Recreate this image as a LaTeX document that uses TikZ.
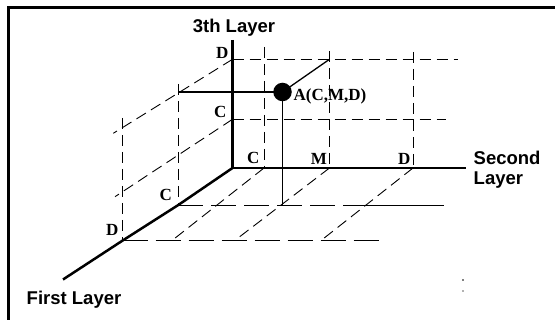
\documentclass[tikz,border=0pt]{standalone}
\usepackage{fontspec}
\setmainfont{Liberation Serif}
\newfontfamily\sansfont{Liberation Sans}
\begin{document}
\begin{tikzpicture}[x=1pt,y=-1pt,
  axisline/.style={line width=2.5pt},
  thinline/.style={line width=1.3pt},
  dsh/.style={line width=0.9pt, dash pattern=on 11pt off 6pt},
  dshlong/.style={line width=0.9pt, dash pattern=on 25pt off 8pt},
  lbl/.style={font=\fontsize{17}{20}\selectfont\bfseries, inner sep=0pt},
  ttl/.style={font=\sansfont\fontsize{18.5}{20}\selectfont\bfseries, inner sep=0pt}]
\useasboundingbox (0,0) rectangle (555,320);
% frame
\draw[line width=2.6pt] (8.5,320) -- (8.5,7.3) -- (555,7.3);
% coordinates
\coordinate (O) at (232.5,168);
\coordinate (Vtop) at (232.5,40);
\coordinate (Hend) at (466,168);
\coordinate (Fend) at (63,279.5);
\coordinate (VC) at (232.5,119.3);
\coordinate (VD) at (232.5,59.3);
\coordinate (HC) at (264,168);
\coordinate (HM) at (329.5,168);
\coordinate (HD) at (413,168);
\coordinate (FC) at (178.3,205);
\coordinate (FD) at (122.7,240.5);
% back plane
\coordinate (bt) at (458,59.3);
\coordinate (bm) at (446,119.3);
\coordinate (hct) at (264,47);
\coordinate (hmt) at (329.5,51);
\coordinate (hdt) at (413,52);
\draw[dsh] (VD) -- (bt);
\draw[dsh] (VC) -- (bm);
\draw[dsh] (hct) -- (HC);
\draw[dsh] (hmt) -- (HM);
\draw[dsh] (hdt) -- (HD);
% side plane
\coordinate (s1) at (113.3,133.3);
\coordinate (s2) at (115,196.7);
\coordinate (fct) at (178.3,84);
\coordinate (fdt) at (122.7,118);
\draw[dsh] (VD) -- (s1);
\draw[dsh] (VC) -- (s2);
\draw[dsh] (fct) -- (FC);
\draw[dsh] (fdt) -- (FD);
% floor
\coordinate (f1m) at (350,205);
\coordinate (f1e) at (444,205);
\coordinate (f2e) at (386,240.5);
\draw[dshlong] (FC) -- (f1m);
\draw[line width=0.9pt] (f1m) -- (f1e);
\draw[dshlong] (FD) -- (f2e);
\coordinate (d1) at (173.3,239.5);
\coordinate (d2) at (235.4,240);
\coordinate (d3) at (321.7,240);
\draw[dsh] (HC) -- (d1);
\draw[dsh] (HM) -- (d2);
\draw[dsh] (HD) -- (d3);
% axes
\draw[axisline] (Vtop) -- (O) -- (Hend);
\draw[axisline] (O) -- (FC) -- (FD) -- (Fend);
% point A and projections
\coordinate (Ac) at (282.5,92);
\coordinate (pl) at (178.3,92);
\coordinate (pf) at (282.5,205);
\coordinate (pb) at (329.5,59.3);
\draw[thinline] (Ac) -- (pl);
\draw[thinline] (Ac) -- (pf);
\draw[thinline] (Ac) -- (pb);
\node[circle, fill, inner sep=0pt, minimum size=18.5pt] (A) at (Ac) {};
\node[lbl, anchor=base west] (Alab) at (293.5,100.3) {A(C,M,D)};
% tick labels
\node[lbl, anchor=base east] (lvd) at (228.5,58.3) {D};
\node[lbl, anchor=base east] (lvc) at (226.5,117.3) {C};
\node[lbl, anchor=base east] (lhc) at (259.5,164) {C};
\node[lbl, anchor=base east] (lhm) at (327,164.5) {M};
\node[lbl, anchor=base east] (lhd) at (410.5,165) {D};
\node[lbl, anchor=base east] (lfc) at (172,200.7) {C};
\node[lbl, anchor=base east] (lfd) at (118.5,235.7) {D};
% axis titles
\node[ttl, anchor=base] (t3) at (234,32.3) {3th Layer};
\node[ttl, anchor=base west] (t2a) at (473.5,165) {Second};
\node[ttl, anchor=base west] (t2b) at (473.5,185) {Layer};
\node[ttl, anchor=base west] (t1) at (26.5,305) {First Layer};
% small marks
\fill[gray] (462,279.3) rectangle (464,280.6);
\fill[gray!60] (462,290.5) rectangle (464,291.8);
\end{tikzpicture}
\end{document}
